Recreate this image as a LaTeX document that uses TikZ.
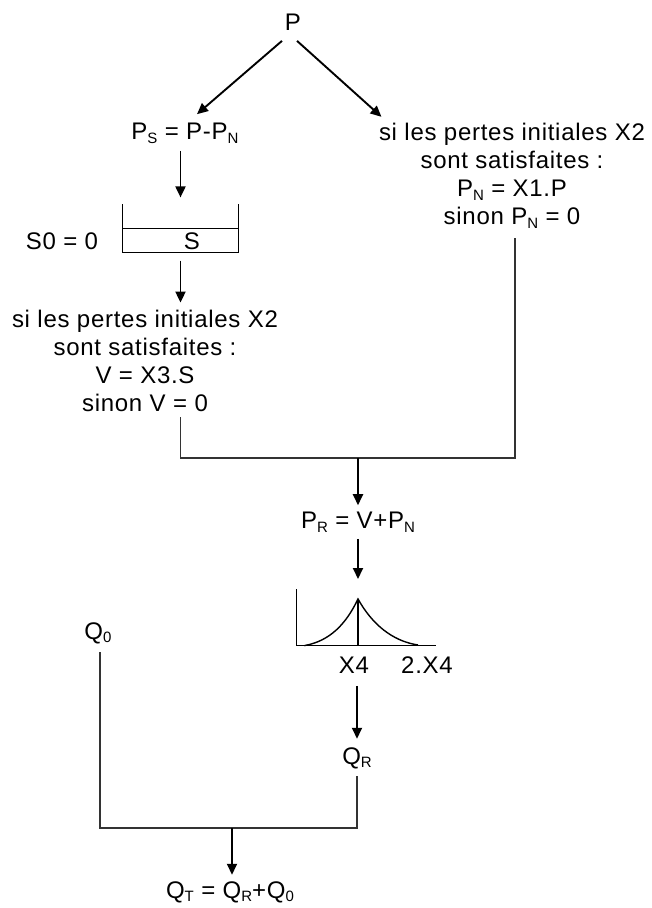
\documentclass[tikz,border=0pt]{standalone}
\usepackage{fontspec}
\setmainfont{Liberation Sans}[LetterSpace=3]
\usetikzlibrary{arrows.meta,positioning,calc}
\newcommand{\ix}[1]{\raisebox{-0.3ex}{\fontsize{15}{15}\selectfont #1}}
\tikzset{
  every picture/.style={x=1pt, y=-1pt, line width=1.2pt},
  txt/.style={font=\fontsize{24}{28}\selectfont, inner sep=0pt, align=center},
  flow/.style={-{Triangle[length=11pt,width=10pt]}, line width=1.9pt},
  link/.style={line width=1.3pt, draw=black!80},
  frame/.style={draw=none, inner sep=0pt},
}

\begin{document}
\begin{tikzpicture}
  \useasboundingbox (0,0) rectangle (652,908);
  % production store and routing
  \node[txt] (P) at (293,22) {P};
  \node[txt] (PS) at (185,133) {P\ix{S} = P-P\ix{N}};
  \node[txt] (PN) at (512,176) {si les pertes initiales X2\\ sont satisfaites :\\ P\ix{N} = X1.P\\ sinon P\ix{N} = 0};
  \draw[flow] ($(P.south)+(-11,10)$) -- ($(PS.north)+(12,-8)$);
  \draw[flow] ($(P.south)+(4,10)$) -- ($(PN.north west)+(3,-6)$);

  % the store
  \node[frame, minimum width=115pt, minimum height=47pt] (tank) at (180.5,228.5) {};
  \draw (tank.north west) |- (tank.south east) -- (tank.north east);
  \draw (tank.west) -- (tank.east);
  \node[txt] (S) at (192,241) {S};
  \node[txt] (S0) at (62,241) {S0 = 0};
  \draw[flow] (PS.south -| tank.north) ++(0,7) -- ($(tank.north)+(0,-7)$);

  \node[txt] (V) at (145,361) {si les pertes initiales X2\\ sont satisfaites :\\ V = X3.S\\ sinon V = 0};
  \draw[flow] (tank.south) ++(0,8) -- ($(tank.south |- V.north)+(0,-7)$);

  % effective rainfall
  \coordinate (J1) at (358,458);
  \draw[link] ($(V.south -| tank.south)+(0,5)$) |- (J1);
  \draw[link] ($(PN.south)+(3,9)$) |- (J1);
  \node[txt] (PR) at (358,522) {P\ix{R} = V+P\ix{N}};
  \draw[flow] (J1) -- ($(PR.north)+(0,-6)$);

  % unit hydrograph
  \node[frame, minimum width=138pt, minimum height=55pt] (UH) at (366,617.5) {};
  \coordinate (pk) at (358,599);
  \draw[line width=1.4pt] (UH.north west) |- (UH.south east);
  \draw[line width=1.4pt] (pk) -- (pk |- UH.south);
  \draw[line width=1.4pt] ($(UH.south west)+(8,0)$) .. controls (330,641) and (346,624) .. (pk)
    .. controls (372,624) and (392,641) .. (418,645);
  \draw[flow] ($(PR.south)+(0,6)$) -- ($(pk)+(0,-20)$);
  \node[txt] (X4) at (354,665) {X4};
  \node[txt] (X42) at (427,665) {2.X4};

  % routed flow
  \node[txt] (QR) at (357,758) {Q\ix{R}};
  \draw[flow] ($(X4.south -| QR)+(0,12)$) -- ($(QR.north)+(0,-8)$);
  \node[txt] (Q0) at (98,633) {Q\ix{0}};
  \coordinate (J2) at (232,828);
  \draw[link] ($(Q0.south)+(2,8)$) |- (J2);
  \draw[link] ($(QR.south)+(0,7)$) |- (J2);
  \node[txt] (QT) at (230,892) {Q\ix{T} = Q\ix{R}+Q\ix{0}};
  \draw[flow] (J2) -- ($(QT.north)+(2,-6)$);
\end{tikzpicture}
\end{document}
